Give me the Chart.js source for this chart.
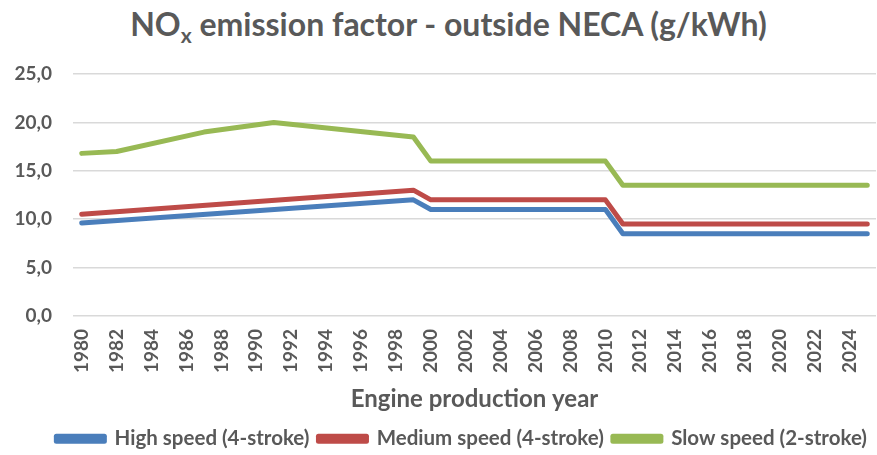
<!DOCTYPE html>
<html>
<head>
<meta charset="utf-8">
<script src="https://cdn.jsdelivr.net/npm/chart.js@4/dist/chart.umd.min.js"></script>
<style>
  html, body { margin: 0; padding: 0; background: #fff; overflow: hidden; }
  #title { width: 857px; padding-left: 20px; height: 56px; text-align: center; font-family: Lato, "Open Sans", sans-serif; font-weight: bold; font-size: 32px; color: #595959; line-height: 48px; }
  #title sub { font-size: 21px; vertical-align: -7px; line-height: 0; }
  #wrap { width: 877px; height: 403px; position: relative; }
</style>
</head>
<body>
<div id="title">NO<sub>x</sub> emission factor - outside NECA (g/kWh)</div>
<div id="wrap"><canvas id="c"></canvas></div>
<script>
const years = ["1980","1981","1982","1983","1984","1985","1986","1987","1988","1989","1990","1991","1992","1993","1994","1995","1996","1997","1998","1999","2000","2001","2002","2003","2004","2005","2006","2007","2008","2009","2010","2011","2012","2013","2014","2015","2016","2017","2018","2019","2020","2021","2022","2023","2024","2025"];
const highSpeed = [9.6,null,null,null,null,null,null,null,null,null,null,null,null,null,null,null,null,null,null,12.0,
  11.0,11.0,11.0,11.0,11.0,11.0,11.0,11.0,11.0,11.0,11.0,
  8.5,8.5,8.5,8.5,8.5,8.5,8.5,8.5,8.5,8.5,8.5,8.5,8.5,8.5,8.5];
const mediumSpeed = [10.5,null,null,null,null,null,null,null,null,null,null,null,null,null,null,null,null,null,null,13.0,
  12.0,12.0,12.0,12.0,12.0,12.0,12.0,12.0,12.0,12.0,12.0,
  9.5,9.5,9.5,9.5,9.5,9.5,9.5,9.5,9.5,9.5,9.5,9.5,9.5,9.5,9.5];
const slowSpeed = [16.8,null,17.0,null,null,null,null,19.0,null,null,null,20.0,null,null,null,null,null,null,null,18.5,
  16.0,16.0,16.0,16.0,16.0,16.0,16.0,16.0,16.0,16.0,16.0,
  13.5,13.5,13.5,13.5,13.5,13.5,13.5,13.5,13.5,13.5,13.5,13.5,13.5,13.5,13.5];
const seriesNames = ["High speed (4-stroke)", "Medium speed (4-stroke)", "Slow speed (2-stroke)"];
const yTicks = [0, 5, 10, 15, 20, 25];
const xTitle = "Engine production year";

const colors = ["#4a7ebb", "#be4b48", "#98b954"];
const FONT = 'Lato, "Open Sans", sans-serif';
const grey = "#595959";

function ds(label, data, color) {
  return { label, data, borderColor: color, backgroundColor: color, borderWidth: 5,
    pointRadius: 0, spanGaps: true, tension: 0, borderCapStyle: "round", borderJoinStyle: "round" };
}

new Chart(document.getElementById("c"), {
  type: "line",
  data: {
    labels: years,
    datasets: [ds(seriesNames[0], highSpeed, colors[0]), ds(seriesNames[1], mediumSpeed, colors[1]), ds(seriesNames[2], slowSpeed, colors[2])]
  },
  options: {
    responsive: true,
    maintainAspectRatio: false,
    animation: false,
    layout: { padding: { left: 0, right: 1, top: 18, bottom: 0 } },
    plugins: {
      title: { display: false },
      tooltip: { enabled: false },
      legend: {
        position: "bottom",
        align: "end",
        labels: { color: grey, font: { family: FONT, size: 20.5, weight: "bold" }, boxWidth: 48, boxHeight: 5, padding: 9 }
      }
    },
    scales: {
      x: {
        offset: true,
        grid: { display: false, drawTicks: false },
        border: { display: false },
        ticks: {
          color: grey, font: { family: FONT, size: 19, weight: "bold" },
          autoSkip: false, maxRotation: 90, minRotation: 90, padding: 13,
          callback: function(v, i) { return i % 2 === 0 ? years[i] : ""; }
        },
        title: { display: true, text: xTitle, color: grey, font: { family: FONT, size: 24, weight: "bold" }, padding: { top: 8, bottom: 6 } },
        afterFit: function(s) { s.paddingLeft = 0; s.paddingRight = 0; s.height = 103.5; }
      },
      y: {
        min: 0, max: 25,
        afterBuildTicks: function(axis) { axis.ticks = yTicks.map(v => ({ value: v })); },
        grid: { color: "#d9d9d9", lineWidth: 1.5, drawTicks: false },
        border: { display: false },
        ticks: {
          color: grey, font: { family: FONT, size: 19, weight: "bold" }, padding: 21,
          callback: function(v) { return Number(v).toFixed(1).replace(".", ","); }
        },
        afterFit: function(s) { s.width = 73; s.paddingTop = 0; s.paddingBottom = 0; }
      }
    }
  }
});
</script>
</body>
</html>
